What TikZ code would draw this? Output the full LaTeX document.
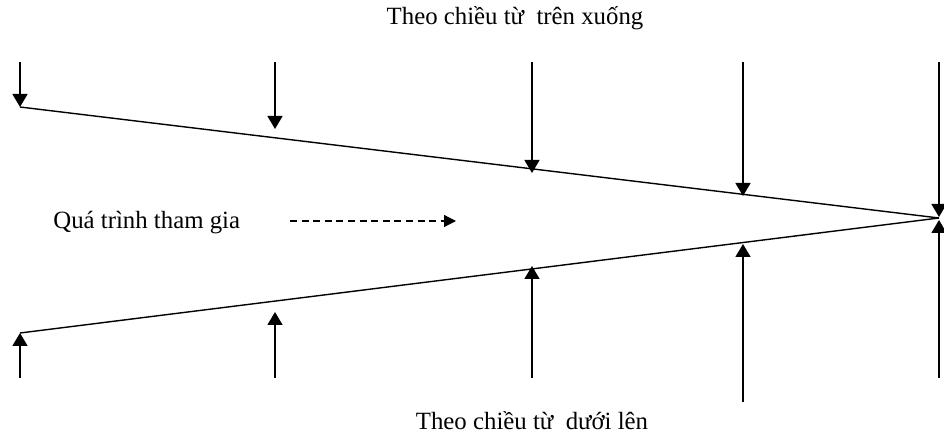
\documentclass[tikz,border=0pt]{standalone}
\usepackage{fontspec}
\setmainfont{Liberation Serif}
\usetikzlibrary{arrows.meta,positioning}
\begin{document}
\begin{tikzpicture}[x=0.5pt,y=-0.5pt,>={Triangle[length=6.5pt,width=7.5pt]},
 arr/.style={->,line width=0.75pt},
 edge/.style={line width=0.7pt},
 lbl/.style={font=\fontsize{12.4}{15}\selectfont,inner sep=0pt,anchor=base}]
\useasboundingbox (0,0) rectangle (944,438);
% the two converging lines
\coordinate (u0) at (20,107);
\coordinate (l0) at (20,333);
\coordinate (apex) at (939,218);
\draw[edge] (u0) -- (apex);
\draw[edge] (l0) -- (apex);
% arrows from above
\foreach \i/\x/\tip in {1/20/107,2/275/129,3/532/173,4/743/196,5/939/217}{
 \coordinate (t\i) at (\x,62);
 \coordinate (p\i) at (\x,\tip);
 \draw[arr] (t\i) -- (p\i);
}
% arrows from below
\foreach \i/\x/\bot/\tip in {1/20/378/333,2/275/378/312,3/532/378/266,4/743/402/244,5/939/378/220}{
 \coordinate (b\i) at (\x,\bot);
 \coordinate (q\i) at (\x,\tip);
 \draw[arr] (b\i) -- (q\i);
}
\node[lbl] (top) at (515,25) {Theo chiều từ\ \ trên xuống};
\node[lbl] (bottom) at (532,430) {Theo chiều từ\ \ dưới lên};
\node[lbl,anchor=base west] (join) at (53,229) {Quá trình tham gia};
\coordinate (ds) at (290,221);
\coordinate (de) at (456,221);
\draw[->,line width=0.65pt,dash pattern=on 3.5pt off 2.3pt,
 >={Triangle[length=6pt,width=6pt]}] (ds) -- (de);
\end{tikzpicture}
\end{document}
